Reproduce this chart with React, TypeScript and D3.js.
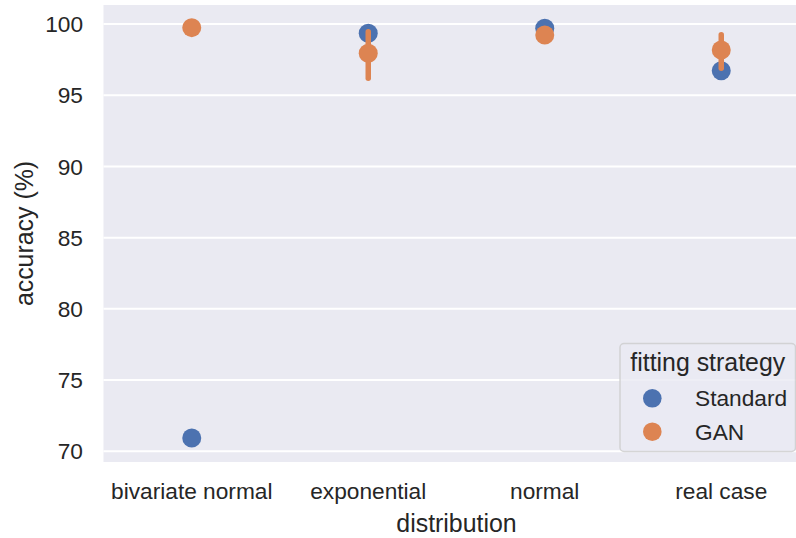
import React from 'react';
import * as d3 from 'd3';

const categories = ['bivariate normal', 'exponential', 'normal', 'real case'];
const seriesNames = ['Standard', 'GAN'];
const seriesColors = ['#4C72B0', '#DD8452'];

// point estimates
const standardMean = [70.93, 99.35, 99.7, 96.72];
const ganMean = [99.74, 97.94, 99.23, 98.17];
// confidence intervals
const standardLow = [70.85, 99.25, 99.62, 96.6];
const standardHigh = [71.0, 99.45, 99.78, 96.85];
const ganLow = [99.7, 96.18, 99.12, 96.89];
const ganHigh = [99.8, 99.46, 99.34, 99.25];

const yTicks = [70, 75, 80, 85, 90, 95, 100];

const W = 796;
const H = 538;
const plot = { left: 103.5, right: 809.5, top: 5, bottom: 462 };
const FONT = '"Liberation Sans", Arial, sans-serif';
const TEXT = '#262626';

export default function App() {
  const x = d3.scaleBand<string>()
    .domain(categories)
    .range([plot.left, plot.right]);
  const cx = (c: string) => (x(c) as number) + x.bandwidth() / 2;

  const y = d3.scaleLinear()
    .domain([69.25, 101.33])
    .range([plot.bottom, plot.top]);

  const series = [
    { name: seriesNames[0], color: seriesColors[0], mean: standardMean, lo: standardLow, hi: standardHigh },
    { name: seriesNames[1], color: seriesColors[1], mean: ganMean, lo: ganLow, hi: ganHigh },
  ];

  return (
    <svg width={W} height={H} style={{ position: 'absolute', left: 0, top: 0, background: '#fff' }}
      fontFamily={FONT}>
      <defs>
        <clipPath id="plotclip">
          <rect x={plot.left} y={plot.top} width={plot.right - plot.left} height={plot.bottom - plot.top} />
        </clipPath>
      </defs>
      <rect x={plot.left} y={plot.top} width={plot.right - plot.left} height={plot.bottom - plot.top}
        fill="#EAEAF2" />
      {yTicks.map((t) => (
        <line key={'g' + t} x1={plot.left} x2={plot.right} y1={y(t)} y2={y(t)}
          stroke="#fff" strokeWidth={2} />
      ))}

      <g clipPath="url(#plotclip)">
        {series.map((s) => (
          <g key={s.name}>
            {categories.map((c, i) => (
              <line key={'e' + c} x1={cx(c)} x2={cx(c)} y1={y(s.lo[i])} y2={y(s.hi[i])}
                stroke={s.color} strokeWidth={5.5} strokeLinecap="round" />
            ))}
            {categories.map((c, i) => (
              <circle key={'p' + c} cx={cx(c)} cy={y(s.mean[i])} r={9.5} fill={s.color} />
            ))}
          </g>
        ))}
      </g>

      {yTicks.map((t) => (
        <text key={'t' + t} x={83} y={y(t)} dy="0.36em" textAnchor="end"
          fontSize={22.7} fill={TEXT}>{t}</text>
      ))}
      {categories.map((c) => (
        <text key={'x' + c} x={cx(c)} y={499} textAnchor="middle" fontSize={22.7} fill={TEXT}>{c}</text>
      ))}

      <text x={(plot.left + plot.right) / 2} y={531.5} textAnchor="middle" fontSize={24.9}
        fill={TEXT}>distribution</text>
      <text transform={`translate(33,${(plot.top + plot.bottom) / 2}) rotate(-90)`} textAnchor="middle"
        fontSize={24.9} fill={TEXT}>accuracy (%)</text>

      {/* legend */}
      <g>
        <rect x={620} y={343.5} width={175.5} height={108} rx={4} fill="#EAEAF2" fillOpacity={0.8}
          stroke="#cccccc" strokeOpacity={0.8} strokeWidth={1.5} />
        <text x={707.75} y={370.5} textAnchor="middle" fontSize={24.9} fill={TEXT}>fitting strategy</text>
        {series.map((s, i) => (
          <g key={'l' + s.name} transform={`translate(0,${398.3 + i * 33.4})`}>
            <circle cx={652.3} cy={0} r={9.3} fill={s.color} />
            <text x={695} y={0} dy="0.36em" fontSize={22.7} fill={TEXT}>{s.name}</text>
          </g>
        ))}
      </g>
    </svg>
  );
}
